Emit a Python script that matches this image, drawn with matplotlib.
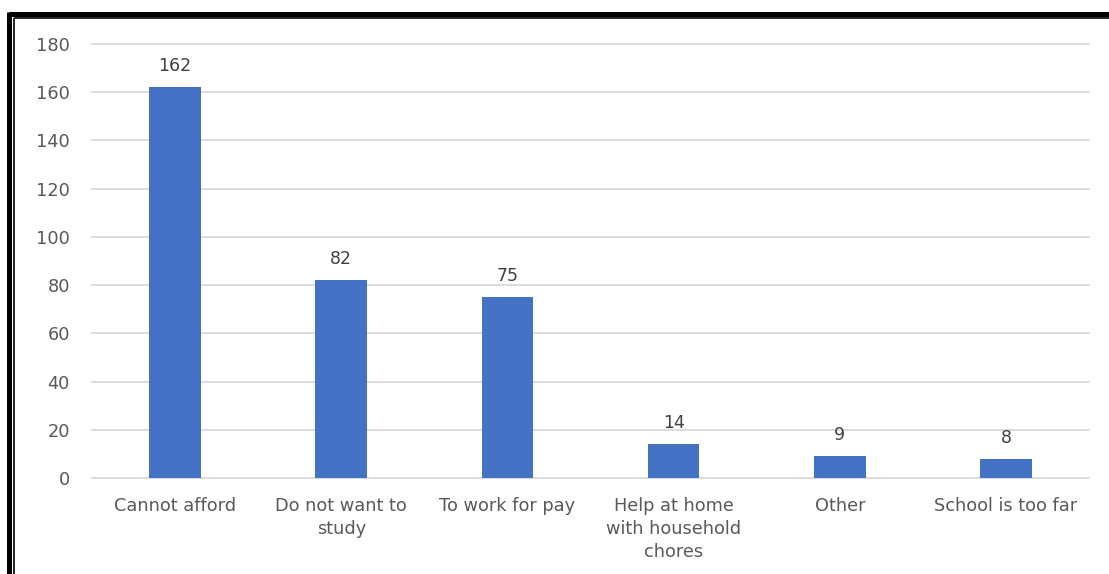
import matplotlib
matplotlib.use("Agg")
import matplotlib.pyplot as plt
from matplotlib.lines import Line2D

categories = ["Cannot afford", "Do not want to\nstudy", "To work for pay",
              "Help at home\nwith household\nchores", "Other", "School is too far"]
counts = [162, 82, 75, 14, 9, 8]
yticks = list(range(0, 181, 20))

plt.rcParams["font.family"] = ["DejaVu Sans"]
fig = plt.figure(figsize=(11.09, 5.74), dpi=100)
ax = fig.add_axes([92 / 1109, 96 / 574, 997 / 1109, 434 / 574])

x = range(len(categories))
bars = ax.bar(x, counts, width=0.31, color="#4472C4", zorder=3)
for b, v in zip(bars, counts):
    ax.text(b.get_x() + b.get_width() / 2, v + 5, str(v), ha="center", va="bottom",
            fontsize=12.5, color="#404040")

ax.set_ylim(0, 180)
ax.set_xlim(-0.5, len(categories) - 0.5)
ax.set_yticks(yticks)
ax.set_xticks(list(x))
ax.set_xticklabels(categories, fontsize=12.8, color="#595959", linespacing=1.35)
ax.tick_params(axis="y", labelsize=12.8, labelcolor="#595959", length=0, pad=16)
ax.tick_params(axis="x", length=0, pad=14)
ax.grid(axis="y", color="#d9d9d9", lw=1.3, zorder=0)
for gl in ax.get_ygridlines():
    gl.set_clip_on(False)
for s in ax.spines.values():
    s.set_visible(False)

# double frame around the picture (top and left)
W, H = 1109, 574
fig.add_artist(Line2D([9 / W, 1], [1 - 13.5 / H, 1 - 13.5 / H], color="black", lw=3.6,
                      transform=fig.transFigure, solid_capstyle="butt"))
fig.add_artist(Line2D([13.5 / W, 1], [1 - 18 / H, 1 - 18 / H], color="black", lw=1.2,
                      transform=fig.transFigure, solid_capstyle="butt"))
fig.add_artist(Line2D([9 / W, 9 / W], [0, 1 - 12 / H], color="black", lw=3.6,
                      transform=fig.transFigure, solid_capstyle="butt"))
fig.add_artist(Line2D([13.5 / W, 13.5 / W], [0, 1 - 18 / H], color="black", lw=1.2,
                      transform=fig.transFigure, solid_capstyle="butt"))

fig.savefig("out.png", dpi=100)
